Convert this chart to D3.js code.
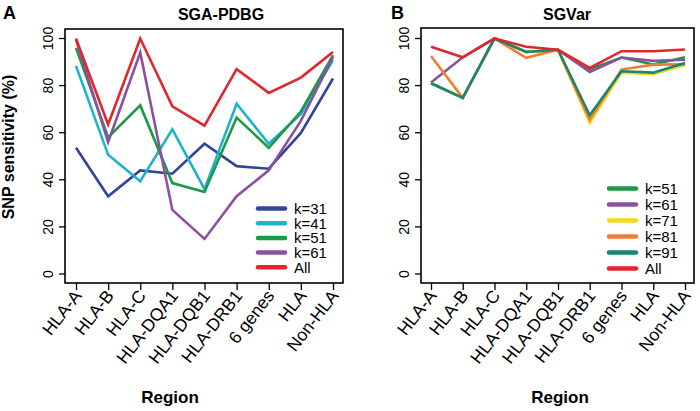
<!DOCTYPE html>
<html><head><meta charset="utf-8">
<script src="https://cdn.jsdelivr.net/npm/d3@7"></script>
<style>body{margin:0;background:#fff}svg{display:block;font-family:"Liberation Sans",Arial,sans-serif}</style>
</head><body>
<svg id="c" width="700" height="411"></svg>
<script>
const regions = ["HLA-A","HLA-B","HLA-C","HLA-DQA1","HLA-DQB1","HLA-DRB1","6 genes","HLA","Non-HLA"];
const yTicks = [0,20,40,60,80,100];

// Panel A: SGA-PDBG
const aK31 = [53.6,33,44,42.6,55.3,45.8,44.7,59.9,83];
const aK41 = [88.4,50.6,39.4,61.4,36,72.3,55.3,68,90.8];
const aK51 = [96,58,71.6,38.6,34.8,66.4,53.6,69,92.9];
const aK61 = [99.5,56,94,27.2,14.9,33,44,65,92.2];
const aAll = [100,63.5,100,71.2,63,87,76.9,83.4,94.3];

// Panel B: SGVar
const bK51 = [81,74.8,100,94.3,95.2,87,91.9,89,92];
const bK61 = [81.3,92,100,94.3,95.2,85.8,91.9,90.5,91];
const bK71 = [81,74.8,100,94.3,95.2,64.1,85.5,84.8,88.7];
const bK81 = [92.6,74.8,100,91.8,95.2,65.5,86.8,88.9,89];
const bK91 = [81,74.8,100,94.3,95.2,67.4,86.1,85.5,89.6];
const bAll = [96.5,92,100,96.5,95.2,87.5,94.6,94.6,95.3];

const C = {blue:"#34449a",cyan:"#1fb2d0",green:"#1b9a45",purple:"#8a51a0",red:"#e2262e",yellow:"#f6d81c",orange:"#ee7e30",teal:"#16876e"};

const panels = [
  {letter:"A", title:"SGA-PDBG", titleX:221, letterX:3, box:[65,29,343,283], xr:[76,333],
   series:[["k=31",aK31,C.blue],["k=41",aK41,C.cyan],["k=51",aK51,C.green],["k=61",aK61,C.purple],["All",aAll,C.red]],
   legend:{x1:258,x2:285,tx:294,y0:208.5,dy:14.7}, regionX:170},
  {letter:"B", title:"SGVar", titleX:567, letterX:391, box:[421,28,694,283], xr:[431,685],
   series:[["k=51",bK51,C.green],["k=61",bK61,C.purple],["k=71",bK71,C.yellow],["k=81",bK81,C.orange],["k=91",bK91,C.teal],["All",bAll,C.red]],
   legend:{x1:609,x2:636,tx:645,y0:188.5,dy:16}, regionX:560}
];

const svg = d3.select("#c");
svg.append("text").attr("transform","translate(14,147) rotate(-90)").attr("text-anchor","middle")
  .attr("font-size",16).attr("font-weight","bold").text("SNP sensitivity (%)");

panels.forEach(p=>{
  const [l,t,r,b] = p.box;
  const x = d3.scalePoint().domain(regions).range(p.xr);
  const y = d3.scaleLinear().domain([0,100]).range([274,38.5]);
  const g = svg.append("g");
  g.append("text").attr("x",p.letterX).attr("y",19).attr("font-size",18).attr("font-weight","bold").text(p.letter);
  g.append("text").attr("x",p.titleX).attr("y",20).attr("text-anchor","middle").attr("font-size",16).attr("font-weight","bold").text(p.title);

  // y axis
  const ya = g.append("g").attr("transform",`translate(${l},0)`)
    .call(d3.axisLeft(y).tickValues(yTicks).tickSize(6).tickFormat(d3.format("d")));
  ya.select(".domain").remove();
  ya.selectAll(".tick").attr("transform",null);
  ya.selectAll(".tick line").attr("stroke","#000").attr("stroke-width",1.3)
    .each(function(d){ d3.select(this).attr("y1",y(d)).attr("y2",y(d)); });
  ya.selectAll(".tick text").attr("font-size",14).attr("font-family","Liberation Sans, Arial, sans-serif")
    .attr("fill","#000").attr("text-anchor","middle").attr("dy",0).attr("x",0).attr("y",0)
    .each(function(d){ d3.select(this).attr("transform",`translate(-12,${y(d)}) rotate(-90)`); });

  // x axis
  const xa = g.append("g").attr("transform",`translate(0,${b})`)
    .call(d3.axisBottom(x).tickSize(7).tickSizeOuter(0));
  xa.select(".domain").remove();
  xa.selectAll("line").attr("stroke","#000").attr("stroke-width",1.3);
  xa.selectAll("text").attr("font-size",17.5).attr("font-family","Liberation Sans, Arial, sans-serif")
    .attr("fill","#000").attr("text-anchor","end").attr("dy",0).attr("y",0)
    .attr("transform","translate(6,13) rotate(-52)");

  g.append("text").attr("x",p.regionX).attr("y",403).attr("text-anchor","middle")
    .attr("font-size",17).attr("font-weight","bold").text("Region");

  const line = d3.line().x((d,i)=>x(regions[i])).y(d=>y(d));
  p.series.forEach(s=>{
    g.append("path").datum(s[1]).attr("d",line).attr("fill","none").attr("stroke",s[2])
      .attr("stroke-width",2.6).attr("stroke-linejoin","miter");
  });

  // legend
  p.series.forEach((s,i)=>{
    const yy = p.legend.y0 + i*p.legend.dy;
    g.append("line").attr("x1",p.legend.x1).attr("x2",p.legend.x2).attr("y1",yy).attr("y2",yy)
      .attr("stroke",s[2]).attr("stroke-width",4.5).attr("stroke-linecap","round");
    g.append("text").attr("x",p.legend.tx).attr("y",yy+5.5).attr("font-size",15).text(s[0]);
  });

  g.append("rect").attr("x",l).attr("y",t).attr("width",r-l).attr("height",b-t)
    .attr("fill","none").attr("stroke","#000").attr("stroke-width",1.6);
});
</script>
</body></html>
